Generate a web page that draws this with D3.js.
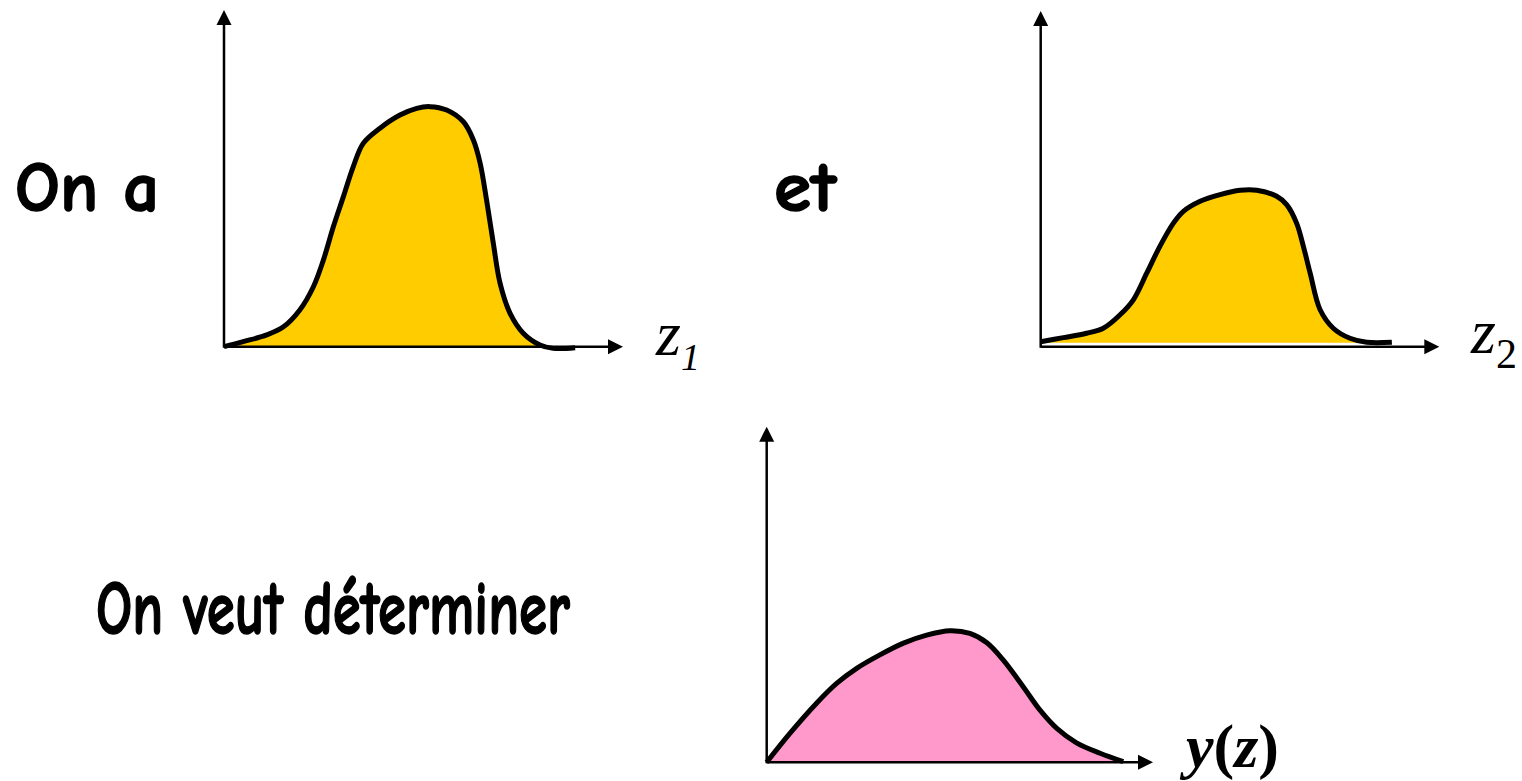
<!DOCTYPE html>
<html>
<head>
<meta charset="utf-8">
<script src="https://cdn.jsdelivr.net/npm/d3@7"></script>
<style>
  html, body { margin: 0; padding: 0; background: #fff; }
  svg { display: block; }
</style>
</head>
<body>
<svg id="chart" width="1522" height="781"></svg>
<script>
// densité de z1 (unités : axe de 0 à 10)
const z1X = [0, 0.48, 1.07, 1.49, 1.9, 2.24, 2.49, 2.74, 2.99, 3.24, 3.49, 3.91, 4.41, 4.83, 5.16, 5.58, 6.0, 6.25, 6.42, 6.58, 6.75, 6.92, 7.17, 7.5, 7.92, 8.25, 8.8];
const z1Y = [0, 0.15, 0.35, 0.59, 1.09, 1.78, 2.57, 3.56, 4.45, 5.35, 6.04, 6.49, 6.88, 7.08, 7.13, 7.03, 6.68, 6.14, 5.45, 4.36, 3.07, 1.88, 0.99, 0.4, 0.05, -0.05, -0.03];

// densité de z2
const z2X = [0, 0.57, 1.15, 1.57, 1.99, 2.32, 2.66, 2.99, 3.33, 3.58, 4.0, 4.5, 5.0, 5.42, 5.92, 6.17, 6.42, 6.59, 6.76, 7.01, 7.34, 7.76, 8.18, 8.81];
const z2Y = [0.15, 0.27, 0.4, 0.55, 0.95, 1.39, 2.19, 2.99, 3.68, 4.03, 4.33, 4.53, 4.66, 4.66, 4.48, 4.23, 3.68, 2.99, 2.19, 1.1, 0.55, 0.25, 0.13, 0.13];
const z2Base = 0.12;

// densité recherchée y(z)
const yzX = [0, 0.6, 1.29, 1.81, 2.33, 2.93, 3.54, 4.14, 4.75, 5.26, 5.7, 6.12, 6.64, 7.07, 7.51, 8.02, 8.63, 9.23];
const yzY = [0, 0.86, 1.76, 2.35, 2.8, 3.2, 3.55, 3.79, 3.92, 3.84, 3.56, 3.05, 2.25, 1.56, 1.01, 0.58, 0.27, 0.02];

const panels = [
  { xs: z1X, ys: z1Y, base: 0, fill: '#ffcc00', ox: 224, oy: 346.7, tx: 623, ty: 10 },
  { xs: z2X, ys: z2Y, base: z2Base, fill: '#ffcc00', ox: 1040.7, oy: 346.7, tx: 1439.3, ty: 11 },
  { xs: yzX, ys: yzY, base: 0, fill: '#ff99cc', ox: 766.7, oy: 762.3, tx: 1153, ty: 426.7 }
];

const svg = d3.select('#chart');
const head = 15;
const half = 7.5;

panels.forEach(p => {
  const x = d3.scaleLinear().domain([0, 10]).range([p.ox, p.tx]);
  const y = d3.scaleLinear().domain([0, 10]).range([p.oy, p.ty]);
  const pts = p.xs.map((v, i) => [v, p.ys[i]]);
  const g = svg.append('g').attr('class', 'panel');

  // surface sous la courbe
  g.append('path')
    .datum(pts)
    .attr('fill', p.fill)
    .attr('d', d3.area()
      .curve(d3.curveCatmullRom.alpha(0.5))
      .x(d => x(d[0]))
      .y0(y(p.base))
      .y1(d => y(Math.max(d[1], p.base))));

  // axes avec flèches
  const x0 = x(0), y0 = y(0), xt = x.range()[1], yt = y.range()[1];
  g.append('line')
    .attr('x1', x0).attr('y1', y0).attr('x2', xt - head + 2).attr('y2', y0)
    .attr('stroke', '#000').attr('stroke-width', 2.5);
  g.append('line')
    .attr('x1', x0).attr('y1', y0 + 1).attr('x2', x0).attr('y2', yt + head - 2)
    .attr('stroke', '#000').attr('stroke-width', 2.5);
  g.append('path')
    .attr('d', `M${xt},${y0}L${xt - head},${y0 - half}L${xt - head},${y0 + half}Z`)
    .attr('fill', '#000');
  g.append('path')
    .attr('d', `M${x0},${yt}L${x0 - half},${yt + head}L${x0 + half},${yt + head}Z`)
    .attr('fill', '#000');

  // courbe
  g.append('path')
    .datum(pts)
    .attr('fill', 'none')
    .attr('stroke', '#000')
    .attr('stroke-width', 5)
    .attr('stroke-linejoin', 'round')
    .attr('d', d3.line()
      .curve(d3.curveCatmullRom.alpha(0.5))
      .x(d => x(d[0]))
      .y(d => y(d[1])));
});

// textes
const comic = '"Comic Sans MS", "Comic Neue", Lato, "Open Sans", sans-serif';

const labels = [
  { text: 'On a', x: 15, y: 211, w: 144, size: 70 },
  { text: 'et', x: 774, y: 211, w: 62, size: 70 },
  { text: 'On veut déterminer', x: 96, y: 634, w: 474, size: 76 }
];
labels.forEach(l => {
  svg.append('text')
    .attr('x', l.x)
    .attr('y', l.y)
    .attr('font-family', comic)
    .attr('font-weight', 700)
    .attr('font-size', l.size)
    .attr('fill', '#000')
    .attr('stroke', '#000')
    .attr('stroke-width', 1.5)
    .attr('stroke-linejoin', 'round')
    .attr('textLength', l.w)
    .attr('lengthAdjust', 'spacingAndGlyphs')
    .text(l.text);
});

const serif = '"Times New Roman", "Liberation Serif", serif';

// z1
const t1 = svg.append('text')
  .attr('x', 656).attr('y', 355)
  .attr('font-family', serif).attr('font-size', 64).attr('font-style', 'italic');
t1.append('tspan').text('z');
t1.append('tspan').attr('font-size', 38).attr('dy', 15).attr('dx', 0).text('1');

// z2
const t2 = svg.append('text')
  .attr('x', 1471).attr('y', 353)
  .attr('font-family', serif).attr('font-size', 64);
t2.append('tspan').attr('font-style', 'italic').text('z');
t2.append('tspan').attr('font-size', 42).attr('dy', 15).text('2');

// y(z)
const t3 = svg.append('text')
  .attr('x', 1186).attr('y', 767)
  .attr('font-family', serif).attr('font-size', 62).attr('font-weight', 700);
t3.append('tspan').attr('font-style', 'italic').text('y');
t3.append('tspan').text('(');
t3.append('tspan').attr('font-style', 'italic').text('z');
t3.append('tspan').text(')');
</script>
</body>
</html>
